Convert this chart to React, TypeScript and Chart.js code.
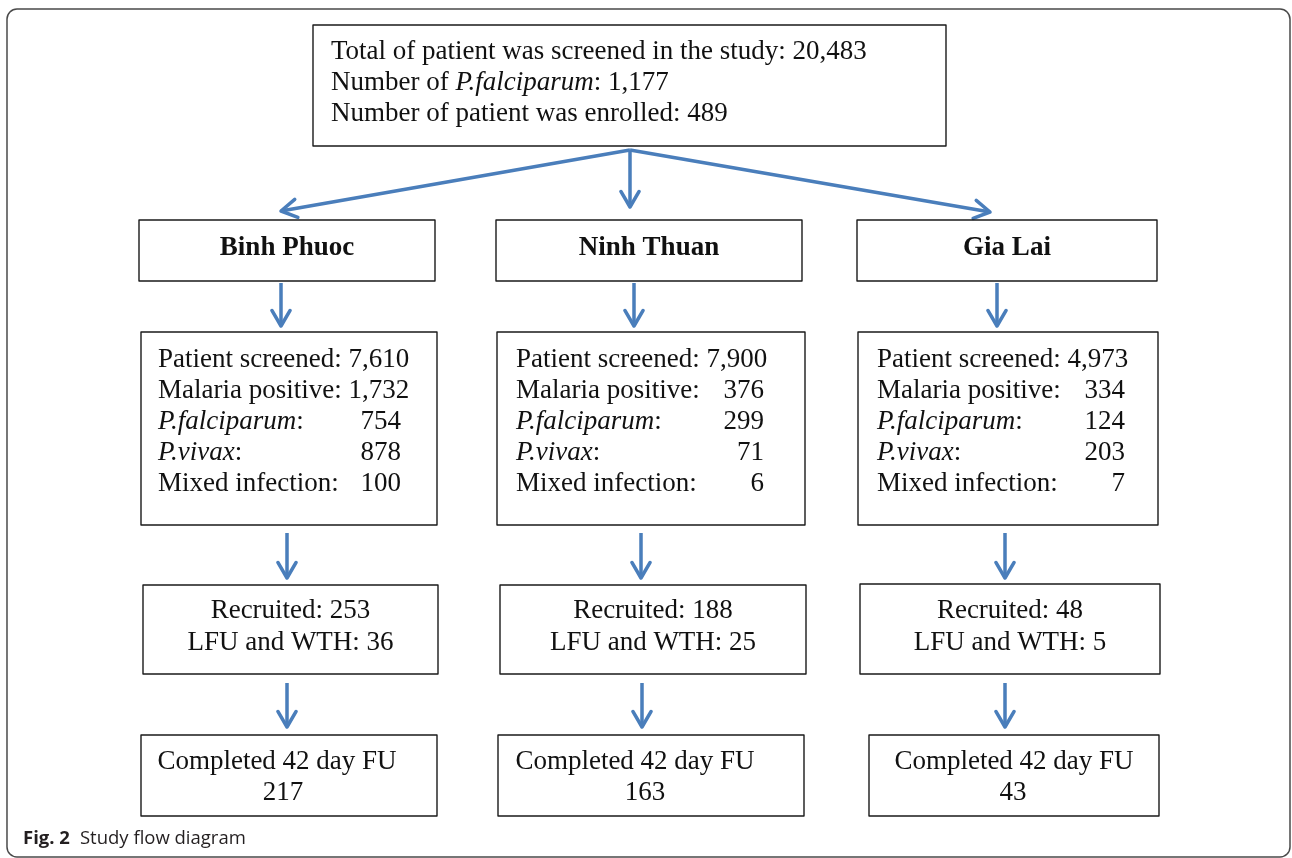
import React, { useEffect, useRef } from "react";
import { Chart, registerables } from "chart.js";

Chart.register(...registerables);

// ---------- data ----------
const sites = ["Binh Phuoc", "Ninh Thuan", "Gia Lai"];
const totalScreened = "20,483";
const totalFalciparum = "1,177";
const totalEnrolled = "489";
const screened = ["7,610", "7,900", "4,973"];
const malariaPositive = ["1,732", "376", "334"];
const pFalciparum = ["754", "299", "124"];
const pVivax = ["878", "71", "203"];
const mixedInfection = ["100", "6", "7"];
const recruited = ["253", "188", "48"];
const lfuWth = ["36", "25", "5"];
const completed = ["217", "163", "43"];
const captionBold = "Fig. 2";
const captionText = "Study flow diagram";

// ---------- layout (diagram coordinates = page pixels) ----------
const W = 1292;
const H = 858;
const topBox = [313, 25, 946, 146];
const topLinesY = [59, 90, 121];
const topTextX = 331;
const siteBoxes = [
  [139, 220, 435, 281],
  [496, 220, 802, 281],
  [857, 220, 1157, 281],
];
const statBoxes = [
  [141, 332, 437, 525],
  [497, 332, 805, 525],
  [858, 332, 1158, 525],
];
const statLabelX = [158, 516, 877];
const statValueRight = [401, 764, 1125];
const statLinesY = [367, 398, 429, 460, 491];
const recBoxes = [
  [143, 585, 438, 674],
  [500, 585, 806, 674],
  [860, 584, 1160, 674],
];
const recLinesY = [618, 650];
const compBoxes = [
  [141, 735, 437, 816],
  [498, 735, 804, 816],
  [869, 735, 1159, 816],
];
const compTextX = [
  [277, 283],
  [635, 645],
  [1014, 1013],
];
const compLinesY = [769, 800];
const origin = [630, 150];
const topArrowEnds = [
  [281, 211],
  [630, 207],
  [990, 212],
];
const arrowX1 = [281, 634, 997];
const arrowY1 = [283, 326];
const arrowX2 = [287, 641, 1005];
const arrowY2 = [533, 578];
const arrowX3 = [287, 642, 1005];
const arrowY3 = [683, 727];

const ARROW = "#4a7ebb";
const FS = 27;

function serif(bold = false, italic = false) {
  return `${italic ? "italic " : ""}${bold ? "bold " : ""}${FS}px "Liberation Serif", "Times New Roman", serif`;
}

type Seg = [string, boolean];

function segWidth(ctx: CanvasRenderingContext2D, segs: Seg[], bold = false) {
  let w = 0;
  for (const [t, it] of segs) {
    ctx.font = serif(bold, it);
    w += ctx.measureText(t).width;
  }
  return w;
}

function drawSegs(ctx: CanvasRenderingContext2D, segs: Seg[], x: number, y: number, bold = false) {
  let cx = x;
  for (const [t, it] of segs) {
    ctx.font = serif(bold, it);
    ctx.textAlign = "left";
    ctx.fillText(t, cx, y);
    cx += ctx.measureText(t).width;
  }
}

function buildArrowDatasets() {
  const ds: any[] = [];
  const mk = (a: number[], b: number[]) => ({
    type: "line",
    data: [
      { x: a[0], y: a[1] },
      { x: b[0], y: b[1] },
    ],
    borderColor: ARROW,
    borderWidth: 3.5,
    pointRadius: 0,
    fill: false,
    clip: false,
    isArrow: true,
  });
  topArrowEnds.forEach((e) => ds.push(mk(origin, e)));
  arrowX1.forEach((x) => ds.push(mk([x, arrowY1[0]], [x, arrowY1[1]])));
  arrowX2.forEach((x) => ds.push(mk([x, arrowY2[0]], [x, arrowY2[1]])));
  arrowX3.forEach((x) => ds.push(mk([x, arrowY3[0]], [x, arrowY3[1]])));
  return ds;
}

const diagramPlugin = {
  id: "diagram",
  beforeDatasetsDraw(chart: any) {
    const ctx: CanvasRenderingContext2D = chart.ctx;
    const xs = chart.scales.x;
    const ys = chart.scales.y;
    const px = (v: number) => xs.getPixelForValue(v);
    const py = (v: number) => ys.getPixelForValue(v);
    ctx.save();
    ctx.fillStyle = "#ffffff";
    ctx.fillRect(0, 0, chart.width, chart.height);
    // outer frame
    ctx.strokeStyle = "#4a4a4a";
    ctx.lineWidth = 1.5;
    ctx.beginPath();
    (ctx as any).roundRect(px(7), py(9), px(1290) - px(7), py(857) - py(9), 10);
    ctx.stroke();
    ctx.restore();
  },
  afterDatasetsDraw(chart: any) {
    const ctx: CanvasRenderingContext2D = chart.ctx;
    const xs = chart.scales.x;
    const ys = chart.scales.y;
    const px = (v: number) => xs.getPixelForValue(v);
    const py = (v: number) => ys.getPixelForValue(v);
    ctx.save();

    // arrowheads
    chart.data.datasets.forEach((d: any) => {
      if (!d.isArrow) return;
      const a = d.data[0];
      const b = d.data[1];
      const x0 = px(a.x), y0 = py(a.y), x1 = px(b.x), y1 = py(b.y);
      const ang = Math.atan2(y1 - y0, x1 - x0);
      const L = 18;
      const spread = 0.53;
      ctx.strokeStyle = ARROW;
      ctx.lineWidth = 3.5;
      ctx.lineCap = "round";
      ctx.lineJoin = "round";
      ctx.beginPath();
      ctx.moveTo(x1 - L * Math.cos(ang - spread), y1 - L * Math.sin(ang - spread));
      ctx.lineTo(x1, y1);
      ctx.lineTo(x1 - L * Math.cos(ang + spread), y1 - L * Math.sin(ang + spread));
      ctx.stroke();
    });

    const box = (b: number[]) => {
      ctx.strokeStyle = "#1a1a1a";
      ctx.lineWidth = 1.4;
      ctx.strokeRect(px(b[0]), py(b[1]), px(b[2]) - px(b[0]), py(b[3]) - py(b[1]));
    };

    ctx.fillStyle = "#111111";
    ctx.textBaseline = "alphabetic";

    // top box
    box(topBox);
    drawSegs(ctx, [[`Total of patient was screened in the study: ${totalScreened}`, false]], px(topTextX), py(topLinesY[0]));
    drawSegs(ctx, [["Number of ", false], ["P.falciparum", true], [`: ${totalFalciparum}`, false]], px(topTextX), py(topLinesY[1]));
    drawSegs(ctx, [[`Number of patient was enrolled: ${totalEnrolled}`, false]], px(topTextX), py(topLinesY[2]));

    sites.forEach((name, i) => {
      // site box
      const sb = siteBoxes[i];
      box(sb);
      ctx.font = serif(true);
      ctx.textAlign = "center";
      ctx.fillText(name, (px(sb[0]) + px(sb[2])) / 2, py(255));

      // stats box
      box(statBoxes[i]);
      const lines: { label: Seg[]; value: string }[] = [
        { label: [["Patient screened:", false]], value: screened[i] },
        { label: [["Malaria positive:", false]], value: malariaPositive[i] },
        { label: [["P.falciparum", true], [":", false]], value: pFalciparum[i] },
        { label: [["P.vivax", true], [":", false]], value: pVivax[i] },
        { label: [["Mixed infection:", false]], value: mixedInfection[i] },
      ];
      lines.forEach((ln, k) => {
        const y = py(statLinesY[k]);
        const lx = px(statLabelX[i]);
        drawSegs(ctx, ln.label, lx, y);
        const lw = segWidth(ctx, ln.label);
        ctx.font = serif();
        const sp = ctx.measureText(" ").width;
        const vw = ctx.measureText(ln.value).width;
        const right = px(statValueRight[i]);
        if (lx + lw + sp + vw > right) {
          ctx.textAlign = "left";
          ctx.fillText(ln.value, lx + lw + sp, y);
        } else {
          ctx.textAlign = "right";
          ctx.fillText(ln.value, right, y);
        }
      });

      // recruited box
      const rb = recBoxes[i];
      box(rb);
      ctx.font = serif();
      ctx.textAlign = "center";
      const rc = (px(rb[0]) + px(rb[2])) / 2;
      ctx.fillText(`Recruited: ${recruited[i]}`, rc, py(recLinesY[0]));
      ctx.fillText(`LFU and WTH: ${lfuWth[i]}`, rc, py(recLinesY[1]));

      // completed box
      box(compBoxes[i]);
      ctx.fillText("Completed 42 day FU", px(compTextX[i][0]), py(compLinesY[0]));
      ctx.fillText(completed[i], px(compTextX[i][1]), py(compLinesY[1]));
    });

    // caption
    ctx.textAlign = "left";
    ctx.fillStyle = "#231f20";
    ctx.font = `bold 18.5px "Open Sans", "Noto Sans", sans-serif`;
    ctx.fillText(captionBold, px(23), py(844));
    const bw = ctx.measureText(captionBold).width;
    ctx.font = `18.5px "Open Sans", "Noto Sans", sans-serif`;
    ctx.fillText(captionText, px(23) + bw + 10, py(844));

    ctx.restore();
  },
};

export default function App() {
  const ref = useRef<HTMLCanvasElement | null>(null);
  useEffect(() => {
    document.body.style.margin = "0";
    const canvas = ref.current;
    if (!canvas) return;
    const chart = new Chart(canvas, {
      type: "scatter",
      data: { datasets: buildArrowDatasets() as any },
      options: {
        animation: false,
        responsive: false,
        events: [],
        layout: { padding: 0 },
        plugins: { legend: { display: false }, tooltip: { enabled: false } },
        scales: {
          x: { type: "linear", min: 0, max: W, display: false },
          y: { type: "linear", min: 0, max: H, reverse: true, display: false },
        },
      },
      plugins: [diagramPlugin],
    });
    return () => chart.destroy();
  }, []);
  return (
    <div style={{ width: W, height: H }}>
      <canvas ref={ref} width={W} height={H} style={{ display: "block", width: W, height: H }} />
    </div>
  );
}
